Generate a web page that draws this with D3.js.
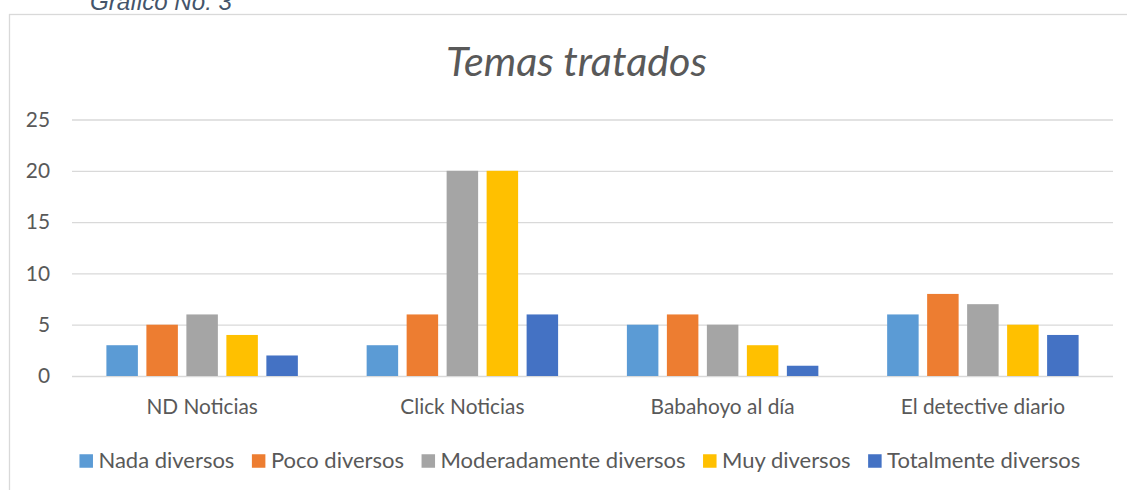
<!DOCTYPE html>
<html>
<head>
<meta charset="utf-8">
<script src="https://cdn.jsdelivr.net/npm/d3@7"></script>
<style>
  body { margin: 0; background: #fff; }
  svg { display: block; font-family: Lato, "Open Sans", sans-serif; }
</style>
</head>
<body>
<svg width="1127" height="490"></svg>
<script>
// data
var categories = ["ND Noticias", "Click Noticias", "Babahoyo al día", "El detective diario"];
var seriesNames = ["Nada diversos", "Poco diversos", "Moderadamente diversos", "Muy diversos", "Totalmente diversos"];
var nadaValues = [3, 3, 5, 6];
var pocoValues = [5, 6, 6, 8];
var moderadoValues = [6, 20, 5, 7];
var muyValues = [4, 20, 3, 5];
var totalValues = [2, 6, 1, 4];
var yTicks = [0, 5, 10, 15, 20, 25];
var colours = ["#5B9BD5", "#ED7D31", "#A5A5A5", "#FFC000", "#4472C4"];

var allValues = [nadaValues, pocoValues, moderadoValues, muyValues, totalValues];

var svg = d3.select("svg"),
    width = +svg.attr("width"),
    height = +svg.attr("height");

var plot = {left: 72, right: 1113, top: 119.5, bottom: 376};
var textColour = "#595959";

// pick a font size so a text comes out at the width seen in the picture
function fitSize(family, style, sample, targetWidth) {
    var t = svg.append("text")
        .attr("font-family", family).attr("font-style", style)
        .attr("font-size", 20).text(sample);
    var w = t.node().getComputedTextLength();
    t.remove();
    return 20 * targetWidth / w;
}

var bodyFont = "Lato, 'Open Sans', sans-serif";
var labelSize = fitSize(bodyFont, "normal", "ND Noticias", 111.6);
var legendSize = fitSize(bodyFont, "normal", "Nada diversos", 136);
var titleSize = fitSize(bodyFont, "italic", "Temas tratados", 261);
var captionFont = "'Liberation Sans', Arial, sans-serif";
var captionSize = fitSize(captionFont, "italic", "Gráfico No. 3", 142);

// caption above the chart frame, cut by the top edge (as in the original)
svg.append("text")
    .attr("x", 90).attr("y", 10)
    .attr("font-family", captionFont)
    .attr("font-size", captionSize).attr("font-style", "italic")
    .attr("fill", "#44546A")
    .text("Gráfico No. 3");

// chart frame
svg.append("rect")
    .attr("x", 9.5).attr("y", 14.5)
    .attr("width", width + 10).attr("height", height + 10)
    .attr("fill", "#fff").attr("stroke", "#D9D9D9").attr("stroke-width", 1.3);

svg.append("text")
    .attr("x", 576.5).attr("y", 76)
    .attr("text-anchor", "middle")
    .attr("font-size", titleSize).attr("font-style", "italic")
    .attr("fill", textColour)
    .text("Temas tratados");

var y = d3.scaleLinear().domain([0, 25]).range([plot.bottom, plot.top]);

var x0 = d3.scaleBand().domain(categories).range([plot.left, plot.right]);
var x1 = d3.scaleBand().domain(d3.range(seriesNames.length))
    .range([0, x0.bandwidth()])
    .paddingInner(0.2125).paddingOuter(0.86);

// gridlines + y labels
var yAxis = d3.axisLeft(y).tickValues(yTicks)
    .tickSize(-(plot.right - plot.left)).tickPadding(22);
var gy = svg.append("g")
    .attr("transform", "translate(" + plot.left + ",0)")
    .call(yAxis);
gy.attr("font-family", null).attr("font-size", null);
gy.select(".domain").remove();
gy.selectAll(".tick line").attr("stroke", "#D9D9D9").attr("stroke-width", 1.3);
gy.selectAll(".tick text").attr("fill", textColour).attr("font-size", labelSize);

// category labels
var xAxis = d3.axisBottom(x0).tickSize(0).tickPadding(23);
var gx = svg.append("g")
    .attr("transform", "translate(0," + plot.bottom + ")")
    .call(xAxis);
gx.attr("font-family", null).attr("font-size", null);
gx.select(".domain").remove();
gx.selectAll(".tick text").attr("fill", textColour).attr("font-size", labelSize);

// bars
var groups = svg.append("g").selectAll("g")
    .data(categories)
    .enter().append("g")
    .attr("transform", function(d) { return "translate(" + x0(d) + ",0)"; });

groups.selectAll("rect")
    .data(function(d, i) {
        return allValues.map(function(vals, s) { return {s: s, v: vals[i]}; });
    })
    .enter().append("rect")
    .attr("x", function(d) { return x1(d.s); })
    .attr("width", x1.bandwidth())
    .attr("y", function(d) { return y(d.v); })
    .attr("height", function(d) { return y(0) - y(d.v); })
    .attr("fill", function(d) { return colours[d.s]; });

// legend, laid out from measured text widths and centred
var legend = svg.append("g");
var sq = 13.5, sqGap = 5.5, itemGap = 17.5, legendY = 461;
var items = legend.selectAll("g").data(seriesNames).enter().append("g");
items.append("rect")
    .attr("width", sq).attr("height", sq)
    .attr("y", legendY - sq / 2)
    .attr("fill", function(d, i) { return colours[i]; });
items.append("text")
    .attr("x", sq + sqGap).attr("y", legendY)
    .attr("dy", "0.33em")
    .attr("font-size", legendSize).attr("fill", textColour)
    .text(function(d) { return d; });

var offsets = [], total = 0;
items.each(function() {
    var w = sq + sqGap + this.querySelector("text").getComputedTextLength();
    offsets.push(total);
    total += w + itemGap;
});
total -= itemGap;
var startX = (80.7 + 1079) / 2 - total / 2;
items.attr("transform", function(d, i) { return "translate(" + (startX + offsets[i]) + ",0)"; });
</script>
</body>
</html>
